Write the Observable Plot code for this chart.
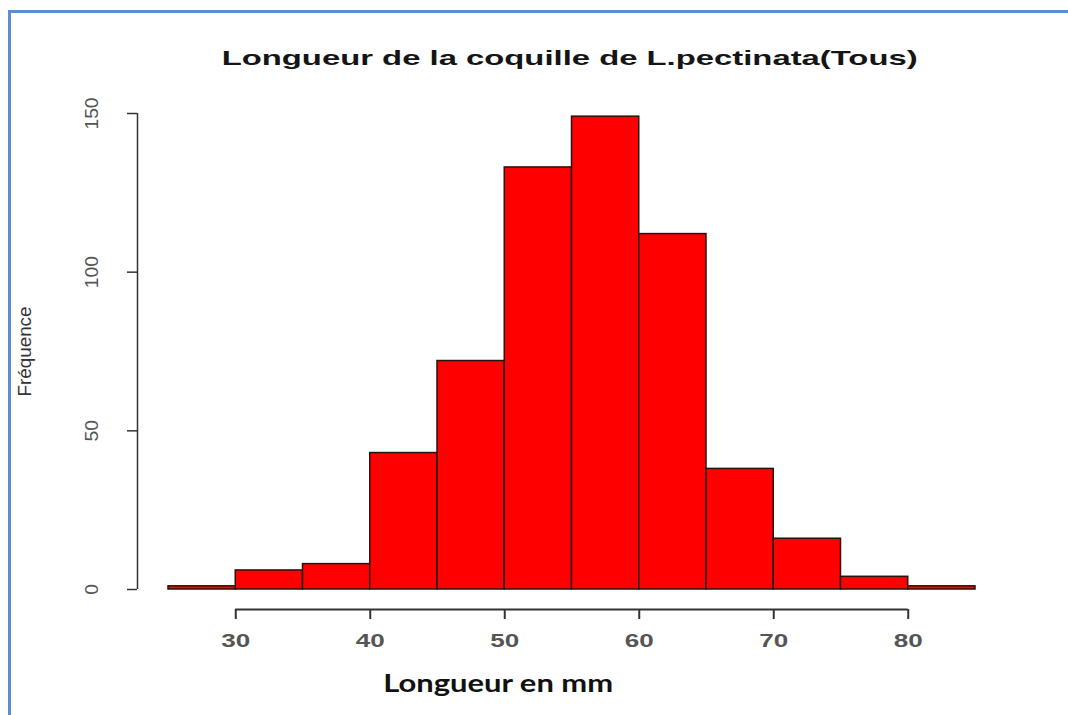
<!DOCTYPE html>
<html><head><meta charset="utf-8">
<script src="https://cdn.jsdelivr.net/npm/d3@7"></script>
<script src="https://cdn.jsdelivr.net/npm/@observablehq/plot@0.6"></script>
<style>
html,body{margin:0;padding:0;background:#fff}
body{width:1068px;height:715px;overflow:hidden;position:relative;font-family:"Liberation Sans",Arial,sans-serif}
#frame{position:absolute;left:8px;top:10px;width:1080px;height:720px;border-left:3px solid #5b8fd4;border-top:3px solid #5b8fd4;box-sizing:border-box}
#chart{position:absolute;left:0;top:0}
.t{position:absolute;white-space:nowrap;transform-origin:center center;line-height:1}
#title{font-weight:bold;font-size:21px;color:#151515}
#xlabel{font-family:Lato,"Open Sans",sans-serif;font-weight:bold;font-size:24px;color:#111}
</style>
</head><body>
<div id="frame"></div>
<div id="chart"></div>
<div id="title" class="t">Longueur de la coquille de L.pectinata(Tous)</div>
<div id="xlabel" class="t">Longueur en mm</div>
<script>
// Data (histogram bins of shell length, mm) and counts
const binStart = [25, 30, 35, 40, 45, 50, 55, 60, 65, 70, 75, 80];
const binEnd   = [30, 35, 40, 45, 50, 55, 60, 65, 70, 75, 80, 85];
const counts   = [1, 6, 8, 43, 72, 133, 149, 112, 38, 16, 4, 1];
const xTicks = [30, 40, 50, 60, 70, 80];
const yTicks = [0, 50, 100, 150];
const yLabel = "Fréquence";

const bins = binStart.map((s, i) => ({x1: s, x2: binEnd[i], n: counts[i]}));

const plot = Plot.plot({
  width: 1068,
  height: 715,
  marginLeft: 168,
  marginRight: 93,
  marginTop: 113,
  marginBottom: 126,
  x: {domain: [25, 85]},
  y: {domain: [0, 150]},
  style: {background: "transparent", fontFamily: "'Liberation Sans', Arial, sans-serif"},
  marks: [
    Plot.rectY(bins, {x1: "x1", x2: "x2", y: "n", fill: "#ff0000", stroke: "#2a1010", strokeWidth: 1.5}),
    Plot.ruleY([0], {x1: xTicks[0], x2: xTicks[xTicks.length - 1], dy: 20, stroke: "#333", strokeWidth: 2}),
    Plot.axisX({ticks: xTicks, tickSize: 10, dy: 20, tickPadding: 15, fontSize: 18, fontWeight: "bold", color: "#555", stroke: "#333", strokeWidth: 2, label: null}),
    Plot.ruleX([25], {y1: yTicks[0], y2: yTicks[yTicks.length - 1], dx: -31, stroke: "#333", strokeWidth: 1.5}),
    Plot.axisY({ticks: yTicks, tickSize: 10, dx: -31, tickPadding: 30, tickRotate: -90, fontSize: 19, color: "#555", stroke: "#333", strokeWidth: 1.5,
      label: yLabel, labelAnchor: "center", labelOffset: 150})
  ]
});
document.getElementById("chart").appendChild(plot);

const svg = d3.select(plot);
svg.selectAll("g[aria-label='x-axis tick label'] text")
  .attr("textLength", 29).attr("lengthAdjust", "spacingAndGlyphs");
svg.selectAll("g[aria-label='y-axis tick label'] text")
  .each(function() { const n = this.textContent.length; d3.select(this).attr("textLength", n * 10.7).attr("lengthAdjust", "spacingAndGlyphs"); });
svg.selectAll("g[aria-label='y-axis label'] text")
  .text(yLabel)
  .attr("textLength", 90).attr("lengthAdjust", "spacingAndGlyphs").attr("font-size", 18).attr("fill", "#333");

function place(id, cx, cy, targetW) {
  const el = document.getElementById(id);
  const r = el.getBoundingClientRect();
  el.style.left = (cx - r.width / 2) + "px";
  el.style.top = (cy - r.height / 2) + "px";
  el.style.transform = "scaleX(" + (targetW / r.width) + ")";
}
place("title", 570, 57, 696);
place("xlabel", 498, 683, 230);
</script>
</body></html>
